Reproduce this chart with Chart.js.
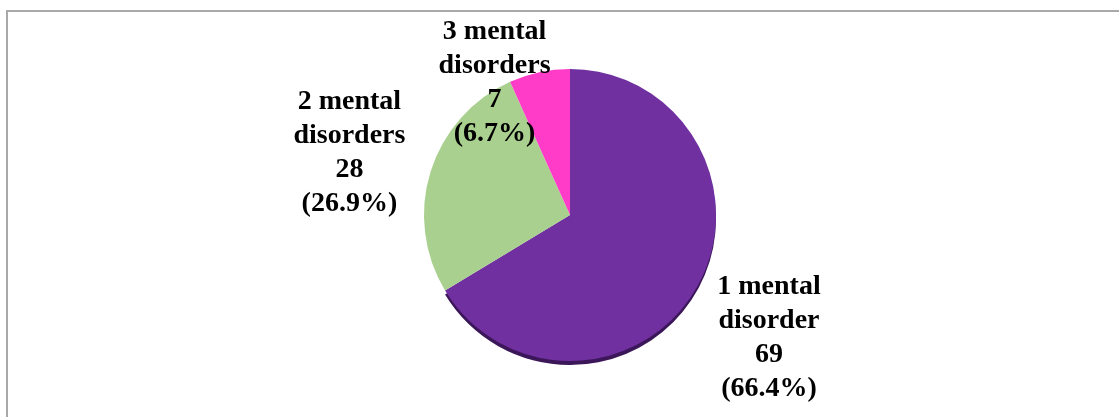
<!DOCTYPE html>
<html lang="en">
<head>
    <meta charset="UTF-8">
    <title>Number of mental disorders</title>
    <script src="https://cdn.jsdelivr.net/npm/chart.js"></script>
    <style>
        body {
            margin: 0;
            width: 1119px;
            height: 417px;
            overflow: hidden;
            background: #ffffff;
            position: relative;
        }
        .frame {
            position: absolute;
            left: 6px;
            top: 10px;
            width: 1200px;
            height: 500px;
            border-left: 2px solid #a9a9a9;
            border-top: 2px solid #a9a9a9;
        }
        .chart-container {
            position: absolute;
            left: 0;
            top: 0;
            width: 1119px;
            height: 417px;
        }
    </style>
</head>
<body>
    <div class="frame"></div>
    <div class="chart-container">
        <canvas id="pieChart"></canvas>
    </div>

    <script>
        const categories = ['1 mental disorder', '2 mental disorders', '3 mental disorders'];
        const counts = [69, 28, 7];
        const percents = ['66.4%', '26.9%', '6.7%'];
        const sliceColors = ['#7030a0', '#a9d08e', '#ff3cc8'];

        // where each label block sits: angle (deg) and distance (in radii) from the pie centre
        const labelPlacement = [
            { angle: 31.6, dist: 1.60 },
            { angle: 195.8, dist: 1.57 },
            { angle: 240.2, dist: 1.04 }
        ];

        function labelLines(i) {
            const words = categories[i].split(' ');
            return [words[0] + ' ' + words[1], words.slice(2).join(' '), String(counts[i]), '(' + percents[i] + ')'];
        }

        // dark rim under the purple slice for the slight 3D look
        const rimPlugin = {
            id: 'rim',
            beforeDatasetsDraw(chart) {
                const arc = chart.getDatasetMeta(0).data[0];
                if (!arc) return;
                const ctx = chart.ctx;
                ctx.save();
                ctx.fillStyle = '#3b1658';
                ctx.beginPath();
                ctx.moveTo(arc.x, arc.y + 4);
                ctx.arc(arc.x, arc.y + 4, arc.outerRadius, arc.startAngle, arc.endAngle);
                ctx.closePath();
                ctx.fill();
                ctx.restore();
            }
        };

        const labelPlugin = {
            id: 'sliceLabels',
            afterDraw(chart) {
                const meta = chart.getDatasetMeta(0);
                const ctx = chart.ctx;
                ctx.save();
                ctx.font = 'bold 28px "Liberation Serif", "Times New Roman", serif';
                ctx.fillStyle = '#000000';
                ctx.textAlign = 'center';
                ctx.textBaseline = 'middle';
                meta.data.forEach((arc, i) => {
                    const p = labelPlacement[i];
                    const a = p.angle * Math.PI / 180;
                    const cx = arc.x + Math.cos(a) * arc.outerRadius * p.dist;
                    const cy = arc.y + Math.sin(a) * arc.outerRadius * p.dist;
                    const lines = labelLines(i);
                    const lh = 34;
                    lines.forEach((t, j) => {
                        ctx.fillText(t, cx, cy + (j - (lines.length - 1) / 2) * lh);
                    });
                });
                ctx.restore();
            }
        };

        function purpleGradient(context) {
            const chart = context.chart;
            const arc = chart.getDatasetMeta(0).data[0];
            if (!arc || !arc.outerRadius) return sliceColors[0];
            const g = chart.ctx.createLinearGradient(arc.x - arc.outerRadius, 0, arc.x + arc.outerRadius, 0);
            g.addColorStop(0, '#7838a8');
            g.addColorStop(1, '#692c97');
            return g;
        }

        const ctx = document.getElementById('pieChart').getContext('2d');
        new Chart(ctx, {
            type: 'pie',
            data: {
                labels: categories,
                datasets: [{
                    data: counts,
                    backgroundColor: (c) => c.dataIndex === 0 ? purpleGradient(c) : sliceColors[c.dataIndex],
                    borderWidth: 0
                }]
            },
            options: {
                responsive: true,
                maintainAspectRatio: false,
                animation: false,
                layout: {
                    padding: { left: 424, right: 403, top: 69, bottom: 56 }
                },
                plugins: {
                    legend: { display: false },
                    tooltip: { enabled: false }
                }
            },
            plugins: [rimPlugin, labelPlugin]
        });
    </script>
</body>
</html>
